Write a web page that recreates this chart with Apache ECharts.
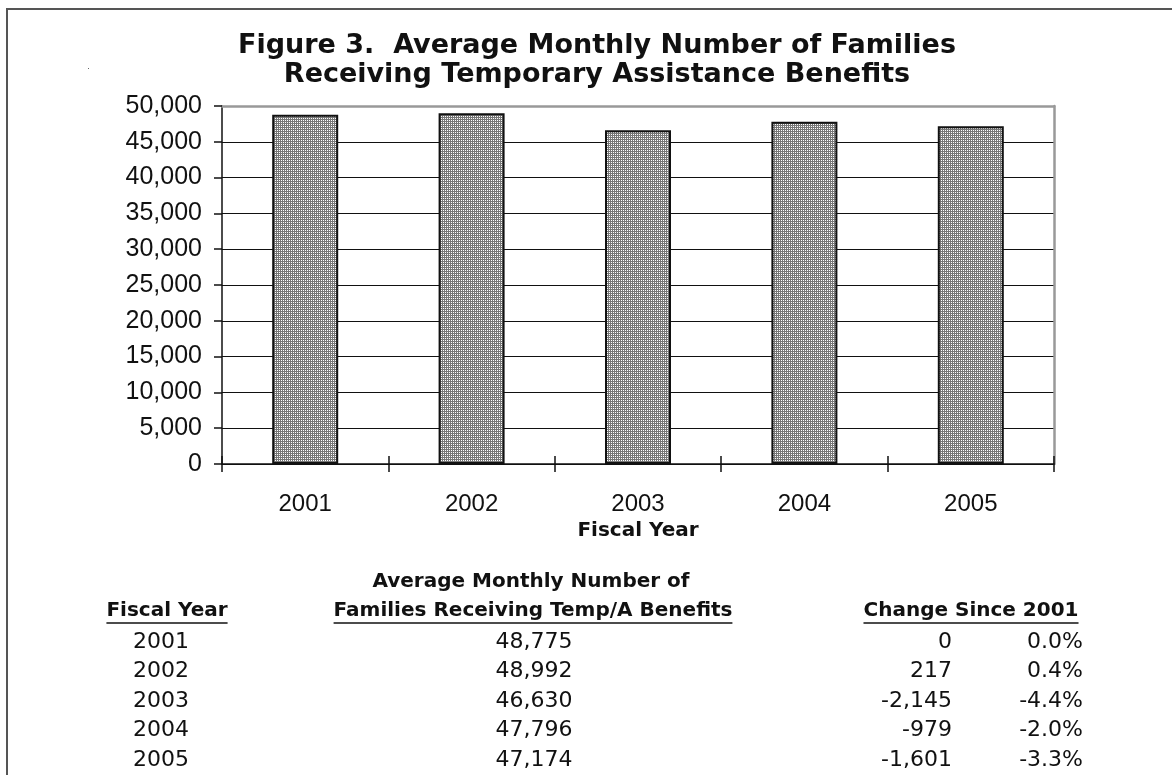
<!DOCTYPE html>
<html><head><meta charset="utf-8">
<script src="https://cdn.jsdelivr.net/npm/echarts@6/dist/echarts.min.js"></script>
<style>html,body{margin:0;padding:0;background:#fff}#c{width:1172px;height:775px}</style>
</head><body><div id="c"></div>
<script>
// ---- data ----
const titleLines = ['Figure 3.  Average Monthly Number of Families', 'Receiving Temporary Assistance Benefits'];
const fiscalYears = ['2001', '2002', '2003', '2004', '2005'];
const families = [48775, 48992, 46630, 47796, 47174];
const changeSince2001 = ['0', '217', '-2,145', '-979', '-1,601'];
const pctChange = ['0.0%', '0.4%', '-4.4%', '-2.0%', '-3.3%'];
const axisName = 'Fiscal Year';
const tableTitle = 'Average Monthly Number of';
const tableHeaders = ['Fiscal Year', 'Families Receiving Temp/A Benefits', 'Change Since 2001'];

// ---- styling ----
const INK = '#111';
const DV = '"DejaVu Sans", sans-serif';
const LS = '"Liberation Sans", Arial, sans-serif';

const pc = document.createElement('canvas'); pc.width = 2; pc.height = 2;
const pg = pc.getContext('2d');
pg.fillStyle = '#777777'; pg.fillRect(0, 0, 2, 2);
pg.fillStyle = '#ffffff'; pg.fillRect(1, 0, 1, 1);

const mc = document.createElement('canvas').getContext('2d');
function textWidth(t, font) { mc.font = font; return mc.measureText(t).width; }

const graphics = [];
function txt(x, y, text, size, weight, align, family) {
  graphics.push({ type: 'text', x: x, y: y, silent: true,
    style: { text: text, fontSize: size, fontWeight: weight, fontFamily: family || DV,
             fill: INK, align: align, verticalAlign: 'middle' } });
}
function line(x1, y1, x2, y2, color, w) {
  graphics.push({ type: 'line', silent: true, shape: { x1: x1, y1: y1, x2: x2, y2: y2 },
    style: { stroke: color, lineWidth: w } });
}
// outer frame
graphics.push({ type: 'polyline', silent: true, shape: { points: [[7, 775], [7, 9], [1172, 9]] },
  style: { stroke: '#555', lineWidth: 2, fill: null } });
graphics.push({ type: 'rect', silent: true, shape: { x: 88, y: 68, width: 1, height: 1 }, style: { fill: '#666' } });

// title
titleLines.forEach((t, i) => txt(597, 46 + i * 28.5, t, 27, 'bold', 'center'));

// table
txt(531, 582, tableTitle, 20, 'bold', 'center');
const headerX = [167, 533, 971];
headerX.forEach((x, i) => {
  txt(x, 611, tableHeaders[i], 20, 'bold', 'center');
  const w = textWidth(tableHeaders[i], 'bold 20px ' + DV);
  line(x - w / 2, 623, x + w / 2, 623, INK, 1.6);
});
fiscalYears.forEach((yr, i) => {
  const y = 642 + i * 29.5;
  txt(161, y, yr, 22, 'normal', 'center');
  txt(534, y, families[i].toLocaleString('en-US'), 22, 'normal', 'center');
  txt(952, y, changeSince2001[i], 22, 'normal', 'right');
  txt(1083, y, pctChange[i], 22, 'normal', 'right');
});

const chart = echarts.init(document.getElementById('c'), null, { renderer: 'canvas' });
chart.setOption({
  backgroundColor: '#fff',
  animation: false,
  grid: { left: 222, right: 118, top: 106, bottom: 311, containLabel: false },
  xAxis: [
    { type: 'category', data: fiscalYears, position: 'bottom',
      axisLine: { onZero: false, lineStyle: { color: INK, width: 1.5 } },
      axisTick: { show: true, inside: false, length: 8, lineStyle: { color: INK, width: 1.5 } },
      axisLabel: { color: INK, fontSize: 24, fontFamily: LS, margin: 28 },
      name: axisName, nameLocation: 'middle', nameGap: 57,
      nameTextStyle: { color: INK, fontSize: 20, fontWeight: 'bold', fontFamily: DV } },
    { type: 'category', data: fiscalYears, position: 'top',
      axisLine: { onZero: false, lineStyle: { color: '#999', width: 2.5 } },
      axisTick: { show: false }, axisLabel: { show: false } },
    { type: 'category', data: fiscalYears, position: 'bottom',
      axisLine: { show: false, onZero: false },
      axisTick: { show: true, inside: true, length: 8, lineStyle: { color: INK, width: 1.5 } },
      axisLabel: { show: false } }
  ],
  yAxis: [
    { type: 'value', min: 0, max: 50000, interval: 5000, position: 'left',
      axisLine: { show: true, onZero: false, lineStyle: { color: INK, width: 1.5 } },
      axisTick: { show: true, inside: false, length: 8, lineStyle: { color: INK, width: 1.5 } },
      axisLabel: { color: INK, fontSize: 25, fontFamily: LS, margin: 20,
                   formatter: v => v.toLocaleString('en-US') },
      splitLine: { show: true, showMaxLine: false, lineStyle: { color: INK, width: 1.2 } } },
    { type: 'value', min: 0, max: 50000, interval: 5000, position: 'right',
      axisLine: { show: true, onZero: false, lineStyle: { color: '#999', width: 2.5 } },
      axisTick: { show: false }, axisLabel: { show: false }, splitLine: { show: false } }
  ],
  series: [{
    type: 'bar', data: families, xAxisIndex: 0, yAxisIndex: 0, barWidth: 66,
    itemStyle: { color: { image: pc, repeat: 'repeat' }, borderColor: INK, borderWidth: 2 },
    emphasis: { disabled: true }
  }],
  graphic: graphics
});
</script></body></html>
